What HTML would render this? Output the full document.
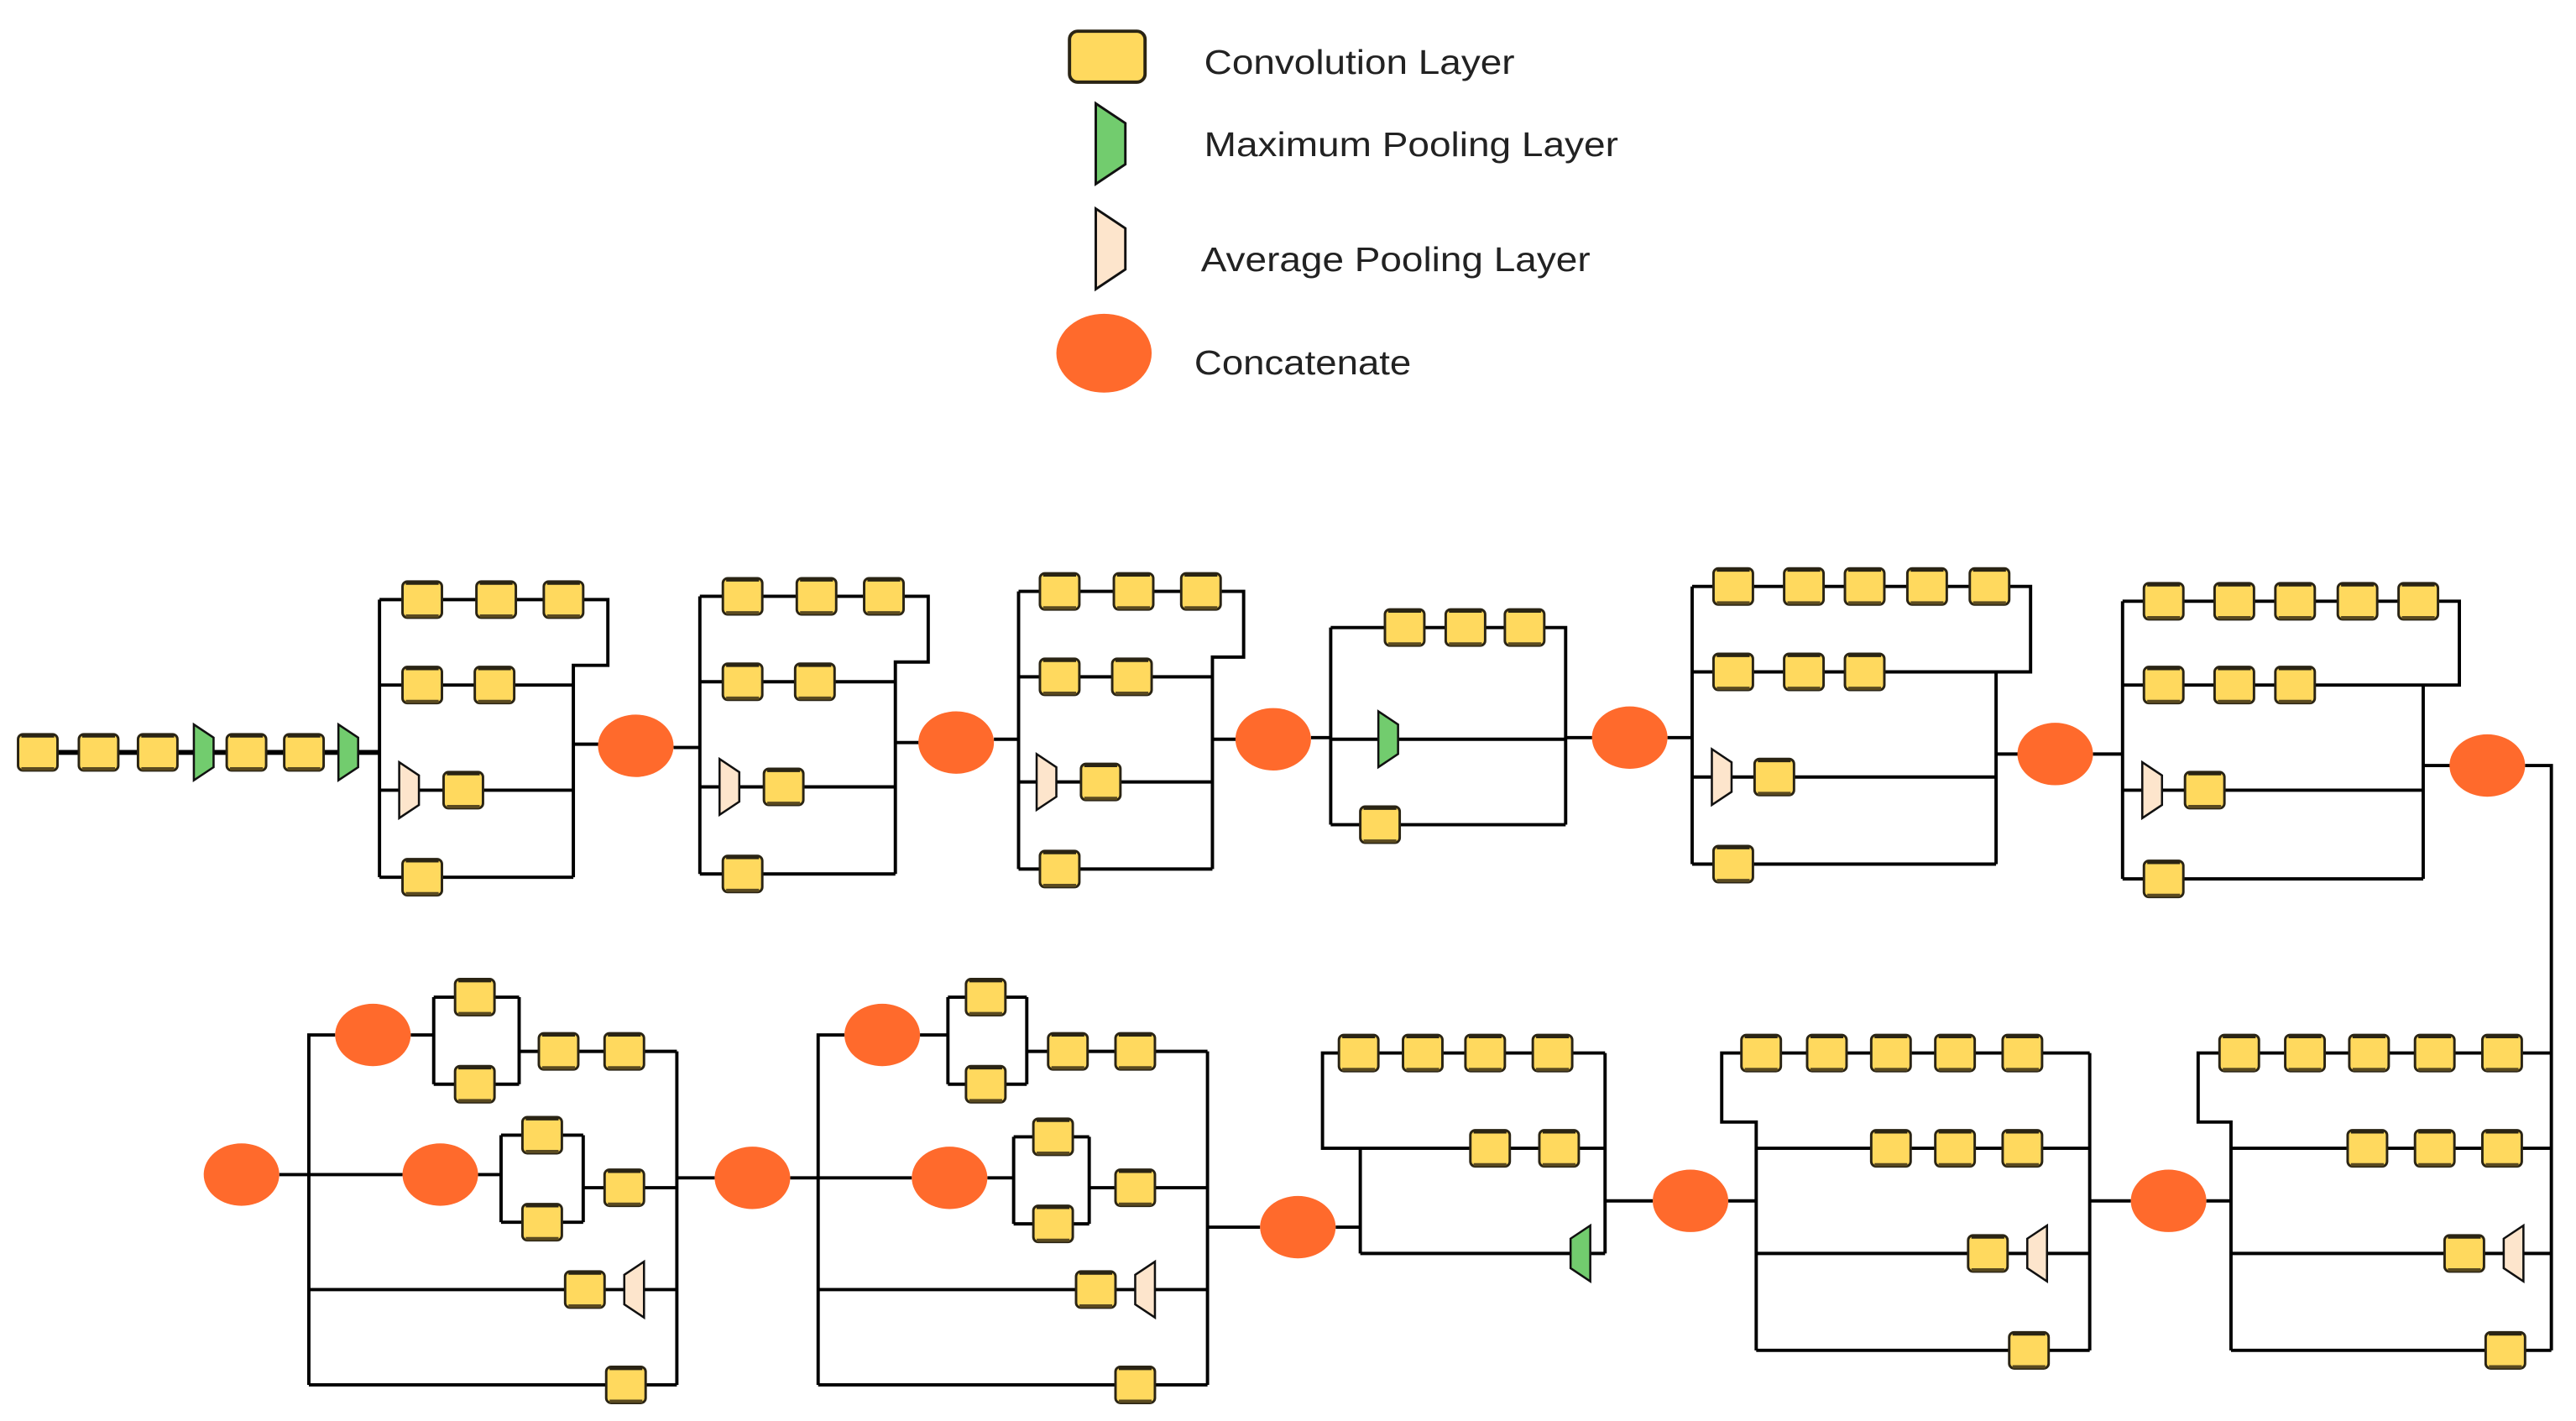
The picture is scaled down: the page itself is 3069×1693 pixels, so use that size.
<!DOCTYPE html>
<html><head><meta charset="utf-8"><style>
html,body{margin:0;padding:0;background:#fff;}
svg{display:block;}
</style></head><body>
<svg width="3069" height="1693" viewBox="0 0 1568 865" preserveAspectRatio="none" xmlns="http://www.w3.org/2000/svg">
<defs>
<g id="b"><rect x="-12" y="-11" width="24" height="22" rx="3" fill="#ffd95e" stroke="#2a2414" stroke-width="1.5"/><line x1="-10" y1="-10" x2="10" y2="-10" stroke="#2a2414" stroke-width="2"/><line x1="-10" y1="10" x2="10" y2="10" stroke="#5a4a20" stroke-width="2"/></g>
<path id="mp" d="M-6,-17 L-6,17 L6,9 L6,-9 Z" fill="#72cc6e" stroke="#111" stroke-width="1.3"/>
<path id="ap" d="M-6,-17 L-6,17 L6,9 L6,-9 Z" fill="#fde5cc" stroke="#111" stroke-width="1.3"/>
<path id="mpl" d="M6,-17 L6,17 L-6,9 L-6,-9 Z" fill="#72cc6e" stroke="#111" stroke-width="1.3"/>
<path id="apl" d="M6,-17 L6,17 L-6,9 L-6,-9 Z" fill="#fde5cc" stroke="#111" stroke-width="1.3"/>
<ellipse id="c" cx="0" cy="0" rx="23" ry="19" fill="#ff6a2c"/>
</defs>

<!-- legend -->
<rect x="651" y="19" width="46" height="31" rx="5" fill="#ffd95e" stroke="#2a2414" stroke-width="2"/>
<path d="M667,63 L667,112 L685,100 L685,75 Z" fill="#72cc6e" stroke="#111" stroke-width="1.5"/>
<path d="M667,127 L667,176 L685,164 L685,139 Z" fill="#fde5cc" stroke="#111" stroke-width="1.5"/>
<ellipse cx="672" cy="215" rx="29" ry="24" fill="#ff6a2c"/>
<g font-family="Liberation Sans, sans-serif" font-size="21" fill="#222">
<text x="733" y="45" textLength="189" lengthAdjust="spacingAndGlyphs">Convolution Layer</text>
<text x="733" y="95" textLength="252" lengthAdjust="spacingAndGlyphs">Maximum Pooling Layer</text>
<text x="731" y="165" textLength="237" lengthAdjust="spacingAndGlyphs">Average Pooling Layer</text>
<text x="727" y="228" textLength="132" lengthAdjust="spacingAndGlyphs">Concatenate</text>
</g>

<g stroke="#000" stroke-width="2" fill="none">
<line x1="11" y1="458" x2="231" y2="458" stroke-width="3"/>
<path d="M231,365 V534 M231,365 H370 V405 H349 V534 M231,417 H349 M231,481 H349 M231,534 H349 M349,453 H365"/>
<path d="M410,455 H426 M426,363 V532 M426,363 H565 V403 H545 V532 M426,415 H545 M426,479 H545 M426,532 H545 M545,452 H560"/>
<path d="M605,450 H620 M620,360 V529 M620,360 H757 V400 H738 V529 M620,412 H738 M620,476 H738 M620,529 H738 M738,450 H753"/>
<path d="M798,449 H810 M810,382 V502 M810,382 H953 V502 M810,450 H953 M810,502 H953 M953,449 H970"/>
<path d="M1015,449 H1030 M1030,357 V526 M1030,357 H1236 V409 H1215 V526 M1030,409 H1215 M1030,473 H1215 M1030,526 H1215 M1215,459 H1229"/>
<path d="M1274,459 H1292 M1292,366 V535 M1292,366 H1497 V417 H1475 V535 M1292,417 H1475 M1292,481 H1475 M1292,535 H1475 M1475,466 H1492"/>
<path d="M1537,466 H1553 V822"/>
<path d="M1553,641 H1338 V683 H1358 V822 M1553,699 H1358 M1553,763 H1358 M1553,822 H1358 M1358,731 H1343"/>
<path d="M1297,731 H1272 M1272,641 V822 M1272,641 H1048 V683 H1069 V822 M1272,699 H1069 M1272,763 H1069 M1272,822 H1069 M1069,731 H1052"/>
<path d="M1006,731 H977 M977,641 V763 M977,641 H805 V699 H828 V763 M977,699 H828 M977,763 H828 M828,747 H813"/>
<path d="M767,747 H735 M735,640 V843 M735,640 H625 M625,607 V660 M577,607 V660 M577,607 H625 M577,660 H625 M577,630 H560 M514,630 H498 V843 M735,723 H663 M663,692 V745 M617,692 V745 M617,692 H663 M617,745 H663 M617,717 H601 M555,717 H498 M735,785 H498 M735,843 H498 M498,717 H481"/>
<path d="M435,717 H412 M412,640 V843 M412,640 H316 M316,607 V660 M264,607 V660 M264,607 H316 M264,660 H316 M264,630 H250 M204,630 H188 V843 M412,723 H355 M355,691 V744 M305,691 V744 M305,691 H355 M305,744 H355 M305,715 H291 M245,715 H188 M412,785 H188 M412,843 H188 M188,715 H170"/>
</g>

<use href="#b" x="23" y="458"/><use href="#b" x="60" y="458"/><use href="#b" x="96" y="458"/>
<use href="#mp" x="124" y="458"/><use href="#b" x="150" y="458"/><use href="#b" x="185" y="458"/><use href="#mp" x="212" y="458"/>
<use href="#b" x="257" y="365"/><use href="#b" x="302" y="365"/><use href="#b" x="343" y="365"/>
<use href="#b" x="257" y="417"/><use href="#b" x="301" y="417"/>
<use href="#ap" x="249" y="481"/><use href="#b" x="282" y="481"/>
<use href="#b" x="257" y="534"/>
<use href="#c" x="387" y="454"/>

<use href="#b" x="452" y="363"/><use href="#b" x="497" y="363"/><use href="#b" x="538" y="363"/>
<use href="#b" x="452" y="415"/><use href="#b" x="496" y="415"/>
<use href="#ap" x="444" y="479"/><use href="#b" x="477" y="479"/>
<use href="#b" x="452" y="532"/>
<use href="#c" x="582" y="452"/>

<use href="#b" x="645" y="360"/><use href="#b" x="690" y="360"/><use href="#b" x="731" y="360"/>
<use href="#b" x="645" y="412"/><use href="#b" x="689" y="412"/>
<use href="#ap" x="637" y="476"/><use href="#b" x="670" y="476"/>
<use href="#b" x="645" y="529"/>
<use href="#c" x="775" y="450"/>

<use href="#b" x="855" y="382"/><use href="#b" x="892" y="382"/><use href="#b" x="928" y="382"/>
<use href="#mp" x="845" y="450"/>
<use href="#b" x="840" y="502"/>
<use href="#c" x="992" y="449"/>

<use href="#b" x="1055" y="357"/><use href="#b" x="1098" y="357"/><use href="#b" x="1135" y="357"/><use href="#b" x="1173" y="357"/><use href="#b" x="1211" y="357"/>
<use href="#b" x="1055" y="409"/><use href="#b" x="1098" y="409"/><use href="#b" x="1135" y="409"/>
<use href="#ap" x="1048" y="473"/><use href="#b" x="1080" y="473"/>
<use href="#b" x="1055" y="526"/>
<use href="#c" x="1251" y="459"/>

<use href="#b" x="1317" y="366"/><use href="#b" x="1360" y="366"/><use href="#b" x="1397" y="366"/><use href="#b" x="1435" y="366"/><use href="#b" x="1472" y="366"/>
<use href="#b" x="1317" y="417"/><use href="#b" x="1360" y="417"/><use href="#b" x="1397" y="417"/>
<use href="#ap" x="1310" y="481"/><use href="#b" x="1342" y="481"/>
<use href="#b" x="1317" y="535"/>
<use href="#c" x="1514" y="466"/>

<use href="#b" x="1363" y="641"/><use href="#b" x="1403" y="641"/><use href="#b" x="1442" y="641"/><use href="#b" x="1482" y="641"/><use href="#b" x="1523" y="641"/>
<use href="#b" x="1441" y="699"/><use href="#b" x="1482" y="699"/><use href="#b" x="1523" y="699"/>
<use href="#b" x="1500" y="763"/><use href="#apl" x="1530" y="763"/>
<use href="#b" x="1525" y="822"/>
<use href="#c" x="1320" y="731"/>

<use href="#b" x="1072" y="641"/><use href="#b" x="1112" y="641"/><use href="#b" x="1151" y="641"/><use href="#b" x="1190" y="641"/><use href="#b" x="1231" y="641"/>
<use href="#b" x="1151" y="699"/><use href="#b" x="1190" y="699"/><use href="#b" x="1231" y="699"/>
<use href="#b" x="1210" y="763"/><use href="#apl" x="1240" y="763"/>
<use href="#b" x="1235" y="822"/>
<use href="#c" x="1029" y="731"/>

<use href="#b" x="827" y="641"/><use href="#b" x="866" y="641"/><use href="#b" x="904" y="641"/><use href="#b" x="945" y="641"/>
<use href="#b" x="907" y="699"/><use href="#b" x="949" y="699"/>
<use href="#mpl" x="962" y="763"/>
<use href="#c" x="790" y="747"/>

<use href="#c" x="537" y="630"/><use href="#b" x="600" y="607"/><use href="#b" x="600" y="660"/>
<use href="#b" x="650" y="640"/><use href="#b" x="691" y="640"/>
<use href="#c" x="578" y="717"/><use href="#b" x="641" y="692"/><use href="#b" x="641" y="745"/>
<use href="#b" x="691" y="723"/>
<use href="#b" x="667" y="785"/><use href="#apl" x="697" y="785"/>
<use href="#b" x="691" y="843"/>
<use href="#c" x="458" y="717"/>

<use href="#c" x="227" y="630"/><use href="#b" x="289" y="607"/><use href="#b" x="289" y="660"/>
<use href="#b" x="340" y="640"/><use href="#b" x="380" y="640"/>
<use href="#c" x="268" y="715"/><use href="#b" x="330" y="691"/><use href="#b" x="330" y="744"/>
<use href="#b" x="380" y="723"/>
<use href="#b" x="356" y="785"/><use href="#apl" x="386" y="785"/>
<use href="#b" x="381" y="843"/>
<use href="#c" x="147" y="715"/>
</svg>
</body></html>
